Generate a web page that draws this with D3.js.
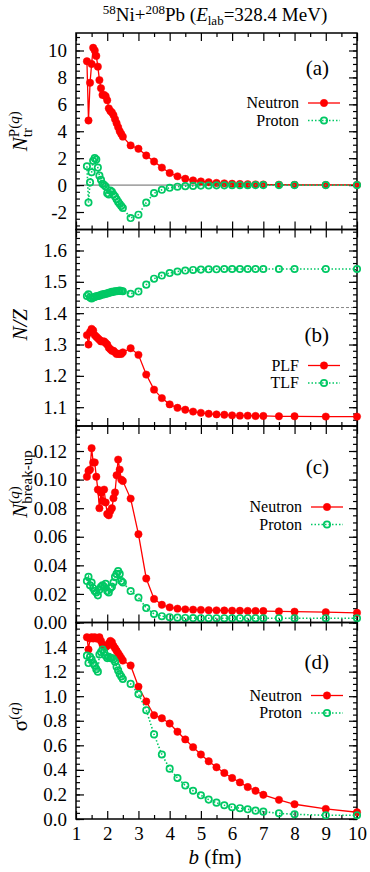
<!DOCTYPE html>
<html>
<head>
<meta charset="utf-8">
<script src="https://cdn.jsdelivr.net/npm/d3@7"></script>
<style>
  body { margin: 0; background: #fff; }
  svg text { font-family: "Liberation Serif", "Times New Roman", serif; fill: #000; }
</style>
</head>
<body>
<svg id="chart" width="370" height="872" font-family="Liberation Serif, serif"></svg>
<script>
// impact parameter b (fm): dense sampling below 2.5 fm, then 0.25 fm steps
var impact = [1.35, 1.40, 1.45, 1.50, 1.55, 1.60, 1.65, 1.70, 1.75, 1.80, 1.85, 1.90,
  1.95, 2.00, 2.05, 2.10, 2.15, 2.20, 2.25, 2.30, 2.35, 2.40, 2.45, 2.50,
  2.75, 3.00, 3.25, 3.50, 3.75, 4.00, 4.25, 4.50, 4.75, 5.00, 5.25, 5.50,
  5.75, 6.00, 6.25, 6.50, 6.75, 7.00, 7.5, 8, 9, 10];

// (a) transferred nucleons
var ntrNeutron = [9.2, 4.8, 7.6, 9.0, 10.2, 10.0, 9.6, 8.8, 7.8, 7.2, 6.7, 6.7,
  6.6, 6.3, 5.7, 5.5, 5.4, 5.2, 4.9, 4.6, 4.3, 4.0, 3.8, 3.6,
  2.95, 2.7, 2.2, 1.75, 1.3, 0.9, 0.65, 0.47, 0.35, 0.27, 0.21, 0.16,
  0.13, 0.10, 0.08, 0.06, 0.05, 0.04, 0.03, 0.02, 0.01, 0.01];
var ntrProton = [1.4, -1.3, 0.2, 0.95, 1.8, 2.0, 1.9, 1.3, 0.7, 0.4, 0.1, 0.0,
  -0.1, -0.6, -0.7, -0.4, -0.5, -0.7, -0.85, -1.05, -1.25, -1.4, -1.55, -1.7,
  -2.45, -2.2, -1.3, -0.6, -0.35, -0.2, -0.12, -0.08, -0.06, -0.04, -0.03, -0.02,
  -0.02, -0.01, -0.01, -0.01, 0, 0, 0, 0, 0, 0];

// (b) N/Z of the fragments
var nzPLF = [1.33, 1.30, 1.34, 1.35, 1.345, 1.33, 1.325, 1.32, 1.315, 1.31, 1.31, 1.31,
  1.305, 1.30, 1.29, 1.285, 1.28, 1.28, 1.275, 1.27, 1.27, 1.27, 1.27, 1.275,
  1.288, 1.267, 1.204, 1.156, 1.129, 1.109, 1.098, 1.092, 1.086, 1.082, 1.079, 1.077,
  1.076, 1.074, 1.073, 1.073, 1.072, 1.072, 1.071, 1.071, 1.070, 1.070];
var nzTLF = [1.455, 1.46, 1.45, 1.447, 1.45, 1.452, 1.454, 1.455, 1.456, 1.458, 1.46, 1.46,
  1.462, 1.463, 1.465, 1.466, 1.468, 1.468, 1.47, 1.47, 1.471, 1.472, 1.471, 1.47,
  1.462, 1.469, 1.491, 1.51, 1.52, 1.528, 1.533, 1.536, 1.538, 1.539, 1.540, 1.540,
  1.541, 1.541, 1.541, 1.541, 1.541, 1.541, 1.541, 1.541, 1.541, 1.541];
var nzCompound = 1.418;

// (c) break-up nucleons
var bupNeutron = [0.102, 0.106, 0.107, 0.122, 0.112, 0.112, 0.102, 0.093, 0.080, 0.091, 0.085, 0.093,
  0.084, 0.076, 0.075, 0.078, 0.080, 0.087, 0.091, 0.103, 0.114, 0.107, 0.100, 0.099,
  0.0867, 0.0618, 0.0308, 0.0165, 0.0124, 0.0106, 0.0097, 0.0092, 0.0090, 0.0088, 0.0086, 0.0085,
  0.0084, 0.0083, 0.0082, 0.0081, 0.0080, 0.0080, 0.0078, 0.0076, 0.0072, 0.0068];
var bupProton = [0.029, 0.032, 0.026, 0.028, 0.024, 0.022, 0.021, 0.019, 0.023, 0.025, 0.026, 0.025,
  0.027, 0.022, 0.021, 0.024, 0.025, 0.028, 0.032, 0.034, 0.036, 0.034, 0.029, 0.028,
  0.022, 0.0175, 0.0101, 0.006, 0.0044, 0.0037, 0.0034, 0.0032, 0.0031, 0.0030, 0.0030, 0.0030,
  0.0030, 0.0030, 0.0030, 0.0030, 0.0030, 0.0030, 0.0030, 0.0030, 0.0030, 0.0030];

// (d) fluctuations
var sigmaNeutron = [1.48, 1.38, 1.47, 1.48, 1.47, 1.48, 1.47, 1.47, 1.48, 1.45, 1.42, 1.41,
  1.40, 1.41, 1.43, 1.45, 1.44, 1.41, 1.39, 1.37, 1.35, 1.33, 1.31, 1.29,
  1.25, 1.077, 0.957, 0.845, 0.82, 0.777, 0.711, 0.648, 0.585, 0.525, 0.47, 0.421,
  0.375, 0.334, 0.298, 0.26, 0.23, 0.197, 0.156, 0.12, 0.082, 0.055];
var sigmaProton = [1.33, 1.27, 1.32, 1.30, 1.27, 1.25, 1.22, 1.20, 1.34, 1.36, 1.38, 1.36,
  1.33, 1.31, 1.32, 1.31, 1.31, 1.30, 1.28, 1.24, 1.21, 1.18, 1.16, 1.14,
  1.10, 1.017, 0.886, 0.689, 0.525, 0.41, 0.334, 0.273, 0.23, 0.193, 0.158, 0.133,
  0.112, 0.096, 0.088, 0.079, 0.068, 0.060, 0.046, 0.038, 0.030, 0.030];

// tick labels
var xTicks = [1, 2, 3, 4, 5, 6, 7, 8, 9, 10];
var ntrTicks = [-2, 0, 2, 4, 6, 8, 10];
var nzTicks = [1.1, 1.2, 1.3, 1.4, 1.5, 1.6];
var bupTicks = [0, 0.02, 0.04, 0.06, 0.08, 0.10, 0.12];
var sigmaTicks = [0, 0.2, 0.4, 0.6, 0.8, 1.0, 1.2, 1.4];

var svg = d3.select('#chart');
var serif = '"Liberation Serif", "Times New Roman", serif';
var red = '#ff0000', green = '#00c864';
var left = 76, right = 357, panelH = 196.5;

var x = d3.scaleLinear().domain([1, 10]).range([left, right]);

function fmt(spec) {
  return function(d) { return d3.format(spec)(d).replace('\u2212', '-'); };
}

function zip(ys) {
  return impact.map(function(b, i) { return [b, ys[i]]; });
}

var panels = [
  { top: 33, domain: [-3.3, 11.3], ticks: ntrTicks, minorStep: 0.5, fmt: fmt('d'),
    series: [zip(ntrNeutron), zip(ntrProton)], names: ['Neutron', 'Proton'],
    tag: '(a)', tagY: 42, legX: 299, legY: 75, refLine: { v: 0, dash: null } },
  { top: 229.5, domain: [1.04, 1.667], ticks: nzTicks, minorStep: 0.02, fmt: fmt('.1f'),
    series: [zip(nzPLF), zip(nzTLF)], names: ['PLF', 'TLF'],
    tag: '(b)', tagY: 112, legX: 299, legY: 141, refLine: { v: nzCompound, dash: '3,2' } },
  { top: 426, domain: [0, 0.1375], ticks: bupTicks, minorStep: 0.005, fmt: fmt('.2f'),
    series: [zip(bupNeutron), zip(bupProton)], names: ['Neutron', 'Proton'],
    tag: '(c)', tagY: 48, legX: 302, legY: 86, refLine: null },
  { top: 622.5, domain: [0, 1.6], ticks: sigmaTicks, minorStep: 0.05, fmt: fmt('.1f'),
    series: [zip(sigmaNeutron), zip(sigmaProton)], names: ['Neutron', 'Proton'],
    tag: '(d)', tagY: 46, legX: 302, legY: 78, refLine: null }
];

function minorValues(domain, step) {
  var out = [];
  for (var v = Math.ceil(domain[0] / step - 1e-6) * step; v <= domain[1] + 1e-9; v += step) {
    out.push(+v.toFixed(6));
  }
  return out;
}

function styleAxis(g) {
  g.attr('font-family', null).attr('font-size', null);
  g.select('.domain').remove();
  g.selectAll('.tick line').attr('stroke', '#000').attr('stroke-width', 1.2);
  g.selectAll('text').style('font-family', serif).style('font-size', '19px');
}

function drawPanel(p, i) {
  var bottom = p.top + panelH;
  var y = d3.scaleLinear().domain(p.domain).range([bottom, p.top]);
  var g = svg.append('g').attr('class', 'panel');
  var yMinor = minorValues(p.domain, p.minorStep);
  var xMinor = d3.range(1.5, 10, 1);
  var last = i === panels.length - 1;

  // reference line (zero line in (a), N/Z of the compound in (b))
  if (p.refLine) {
    g.append('line')
      .attr('x1', left).attr('x2', right)
      .attr('y1', y(p.refLine.v)).attr('y2', y(p.refLine.v))
      .attr('stroke', p.refLine.dash ? '#888' : '#666')
      .attr('stroke-width', 1)
      .attr('stroke-dasharray', p.refLine.dash);
  }

  // ticks on all four sides, pointing inward
  g.append('g').attr('transform', 'translate(' + left + ',0)')
    .call(d3.axisLeft(y).tickValues(p.ticks).tickSize(-8).tickPadding(9).tickFormat(p.fmt)).call(styleAxis);
  g.append('g').attr('transform', 'translate(' + left + ',0)')
    .call(d3.axisLeft(y).tickValues(yMinor).tickSize(-4).tickFormat('')).call(styleAxis);
  g.append('g').attr('transform', 'translate(' + right + ',0)')
    .call(d3.axisRight(y).tickValues(p.ticks).tickSize(-8).tickFormat('')).call(styleAxis);
  g.append('g').attr('transform', 'translate(' + right + ',0)')
    .call(d3.axisRight(y).tickValues(yMinor).tickSize(-4).tickFormat('')).call(styleAxis);
  g.append('g').attr('transform', 'translate(0,' + p.top + ')')
    .call(d3.axisTop(x).tickValues(xTicks).tickSize(-8).tickFormat('')).call(styleAxis);
  g.append('g').attr('transform', 'translate(0,' + p.top + ')')
    .call(d3.axisTop(x).tickValues(xMinor).tickSize(-4).tickFormat('')).call(styleAxis);
  g.append('g').attr('transform', 'translate(0,' + bottom + ')')
    .call(d3.axisBottom(x).tickValues(xTicks).tickSize(-8).tickPadding(8).tickFormat(last ? fmt('d') : '')).call(styleAxis);
  g.append('g').attr('transform', 'translate(0,' + bottom + ')')
    .call(d3.axisBottom(x).tickValues(xMinor).tickSize(-4).tickFormat('')).call(styleAxis);

  g.append('rect')
    .attr('x', left).attr('y', p.top)
    .attr('width', right - left).attr('height', panelH)
    .attr('fill', 'none').attr('stroke', '#000').attr('stroke-width', 1.5);

  var line = d3.line()
    .x(function(d) { return x(d[0]); })
    .y(function(d) { return y(d[1]); });

  // neutron / PLF first, proton / TLF drawn on top
  p.series.forEach(function(data, k) {
    var color = k === 0 ? red : green;
    g.append('path').datum(data)
      .attr('d', line)
      .attr('fill', 'none')
      .attr('stroke', color)
      .attr('stroke-width', k === 0 ? 1.3 : 1.6)
      .attr('stroke-dasharray', k === 0 ? null : '1.5,2');
    g.selectAll('circle.s' + k).data(data).enter()
      .append('circle')
      .attr('class', 's' + k)
      .attr('cx', function(d) { return x(d[0]); })
      .attr('cy', function(d) { return y(d[1]); })
      .attr('r', k === 0 ? 3.7 : 3.2)
      .attr('fill', k === 0 ? red : 'none')
      .attr('stroke', color)
      .attr('stroke-width', k === 0 ? 0.5 : 1.7);

    // legend entry
    var ly = p.top + p.legY + k * 17.5;
    g.append('text')
      .attr('x', p.legX).attr('y', ly)
      .attr('text-anchor', 'end')
      .style('font-size', '16px')
      .text(p.names[k]);
    g.append('line')
      .attr('x1', p.legX + 9).attr('x2', p.legX + 41)
      .attr('y1', ly - 5).attr('y2', ly - 5)
      .attr('stroke', color)
      .attr('stroke-width', k === 0 ? 1.3 : 1.6)
      .attr('stroke-dasharray', k === 0 ? null : '1.5,2');
    g.append('circle')
      .attr('cx', p.legX + 25).attr('cy', ly - 5)
      .attr('r', k === 0 ? 3.7 : 3.2)
      .attr('fill', k === 0 ? red : 'none')
      .attr('stroke', color)
      .attr('stroke-width', k === 0 ? 0.5 : 1.7);
  });

  g.append('text')
    .attr('x', 329).attr('y', p.top + p.tagY)
    .attr('text-anchor', 'end')
    .style('font-size', '21px')
    .text(p.tag);

  return y;
}

panels.forEach(drawPanel);

// rotated y titles with stacked super/subscripts
function yTitle(cy, build) {
  var t = svg.append('text')
    .attr('transform', 'translate(27,' + cy + ') rotate(-90)')
    .attr('text-anchor', 'middle')
    .style('font-size', '21px');
  build(t);
}

function stacked(t, supBuild, subText) {
  var sup = t.append('tspan').attr('dy', -8).style('font-size', '15px');
  supBuild(sup);
  var w = sup.node().getComputedTextLength();
  t.append('tspan').attr('dx', -w).attr('dy', 13).style('font-size', '15px').text(subText);
}

yTitle(panels[0].top + panelH / 2, function(t) {
  t.append('tspan').style('font-style', 'italic').text('N');
  stacked(t, function(s) {
    s.append('tspan').text('P(');
    s.append('tspan').style('font-style', 'italic').text('q');
    s.append('tspan').text(')');
  }, 'tr');
});

yTitle(panels[1].top + panelH / 2 - 3, function(t) {
  t.append('tspan').style('font-style', 'italic').text('N/Z');
});

yTitle(panels[2].top + 58, function(t) {
  t.append('tspan').style('font-style', 'italic').text('N');
  stacked(t, function(s) {
    s.append('tspan').text('(');
    s.append('tspan').style('font-style', 'italic').text('q');
    s.append('tspan').text(')');
  }, 'break-up');
});

yTitle(panels[3].top + panelH / 2 - 4, function(t) {
  t.append('tspan').text('\u03c3');
  var s = t.append('tspan').attr('dy', -8).style('font-size', '15px');
  s.append('tspan').text('(');
  s.append('tspan').style('font-style', 'italic').text('q');
  s.append('tspan').text(')');
});

// title and x label
var title = svg.append('text')
  .attr('x', 215).attr('y', 21)
  .attr('text-anchor', 'middle')
  .style('font-size', '19px');
title.append('tspan').attr('dy', -7).style('font-size', '13px').text('58');
title.append('tspan').attr('dy', 7).text('Ni+');
title.append('tspan').attr('dy', -7).style('font-size', '13px').text('208');
title.append('tspan').attr('dy', 7).text('Pb (');
title.append('tspan').style('font-style', 'italic').text('E');
title.append('tspan').attr('dy', 4).style('font-size', '13px').text('lab');
title.append('tspan').attr('dy', -4).text('=328.4 MeV)');

var xt = svg.append('text')
  .attr('x', 215).attr('y', 864)
  .attr('text-anchor', 'middle')
  .style('font-size', '21px');
xt.append('tspan').style('font-style', 'italic').text('b');
xt.append('tspan').text(' (fm)');
</script>
</body>
</html>
